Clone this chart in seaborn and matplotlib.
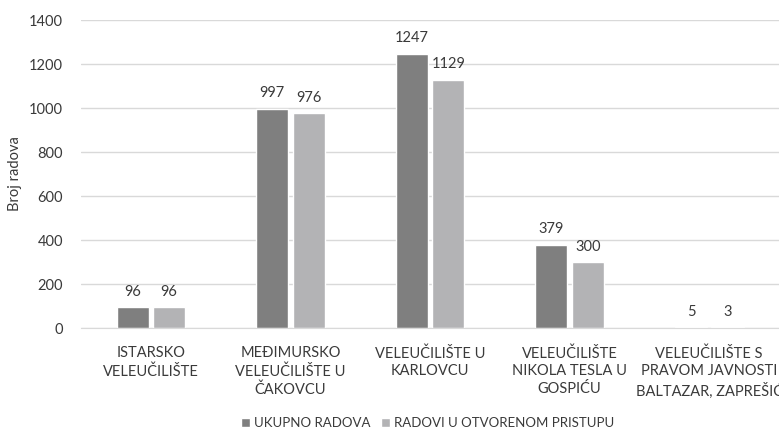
import pandas as pd
import seaborn as sns
import matplotlib.pyplot as plt

# Data
schools = ['ISTARSKO\nVELEUČILIŠTE', 'MEĐIMURSKO\nVELEUČILIŠTE U\nČAKOVCU', 'VELEUČILIŠTE U\nKARLOVCU',
           'VELEUČILIŠTE\nNIKOLA TESLA U\nGOSPIĆU', 'VELEUČILIŠTE S\nPRAVOM JAVNOSTI\nBALTAZAR, ZAPREŠIĆ']
series = ['UKUPNO RADOVA', 'RADOVI U OTVORENOM PRISTUPU']
ukupno = [96, 997, 1247, 379, 5]
otvoreni = [96, 976, 1129, 300, 3]

df = pd.DataFrame({'Ustanova': schools * 2,
                   'Serija': [series[0]] * 5 + [series[1]] * 5,
                   'Broj': ukupno + otvoreni})

sns.set_style('white')
plt.rcParams['font.family'] = ['Lato', 'DejaVu Sans']
txt = '#3a3a3a'
fs = 10.5

fig = plt.figure(figsize=(7.79, 4.32), dpi=100)
ax = fig.add_axes([0.104, 0.2407, 0.896, 0.713])

sns.barplot(data=df, x='Ustanova', y='Broj', hue='Serija', hue_order=series,
            palette=['#7f7f7f', '#b3b3b5'], width=0.523, gap=0.12, ax=ax)

for c in ax.containers:
    ax.bar_label(c, padding=6, fontsize=fs, color=txt)

ax.set_ylim(0, 1400)
ax.set_yticks(range(0, 1401, 200))
ax.set_xlim(-0.5, 4.5)
ax.yaxis.grid(True, color='#d9d9d9', linewidth=1)
ax.set_axisbelow(True)
sns.despine(ax=ax, left=True, top=True, right=True)
ax.spines['bottom'].set_color('#d9d9d9')
ax.tick_params(axis='both', length=0, labelsize=fs, labelcolor=txt)
ax.tick_params(axis='x', pad=13)
ax.tick_params(axis='y', pad=13)
for lbl in ax.get_xticklabels():
    lbl.set_linespacing(1.35)
ax.set_xlabel('')
ax.set_ylabel('Broj radova', fontsize=fs, color=txt, labelpad=5)

ax.get_legend().remove()
handles, labels = ax.get_legend_handles_labels()
fig.legend(handles, labels, loc='lower center', bbox_to_anchor=(0.549, -0.02), ncol=2,
           frameon=False, fontsize=9.5, labelcolor=txt, handlelength=0.7, handleheight=0.7,
           handletextpad=0.3, columnspacing=0.8)

plt.savefig('out.png', dpi=100)
